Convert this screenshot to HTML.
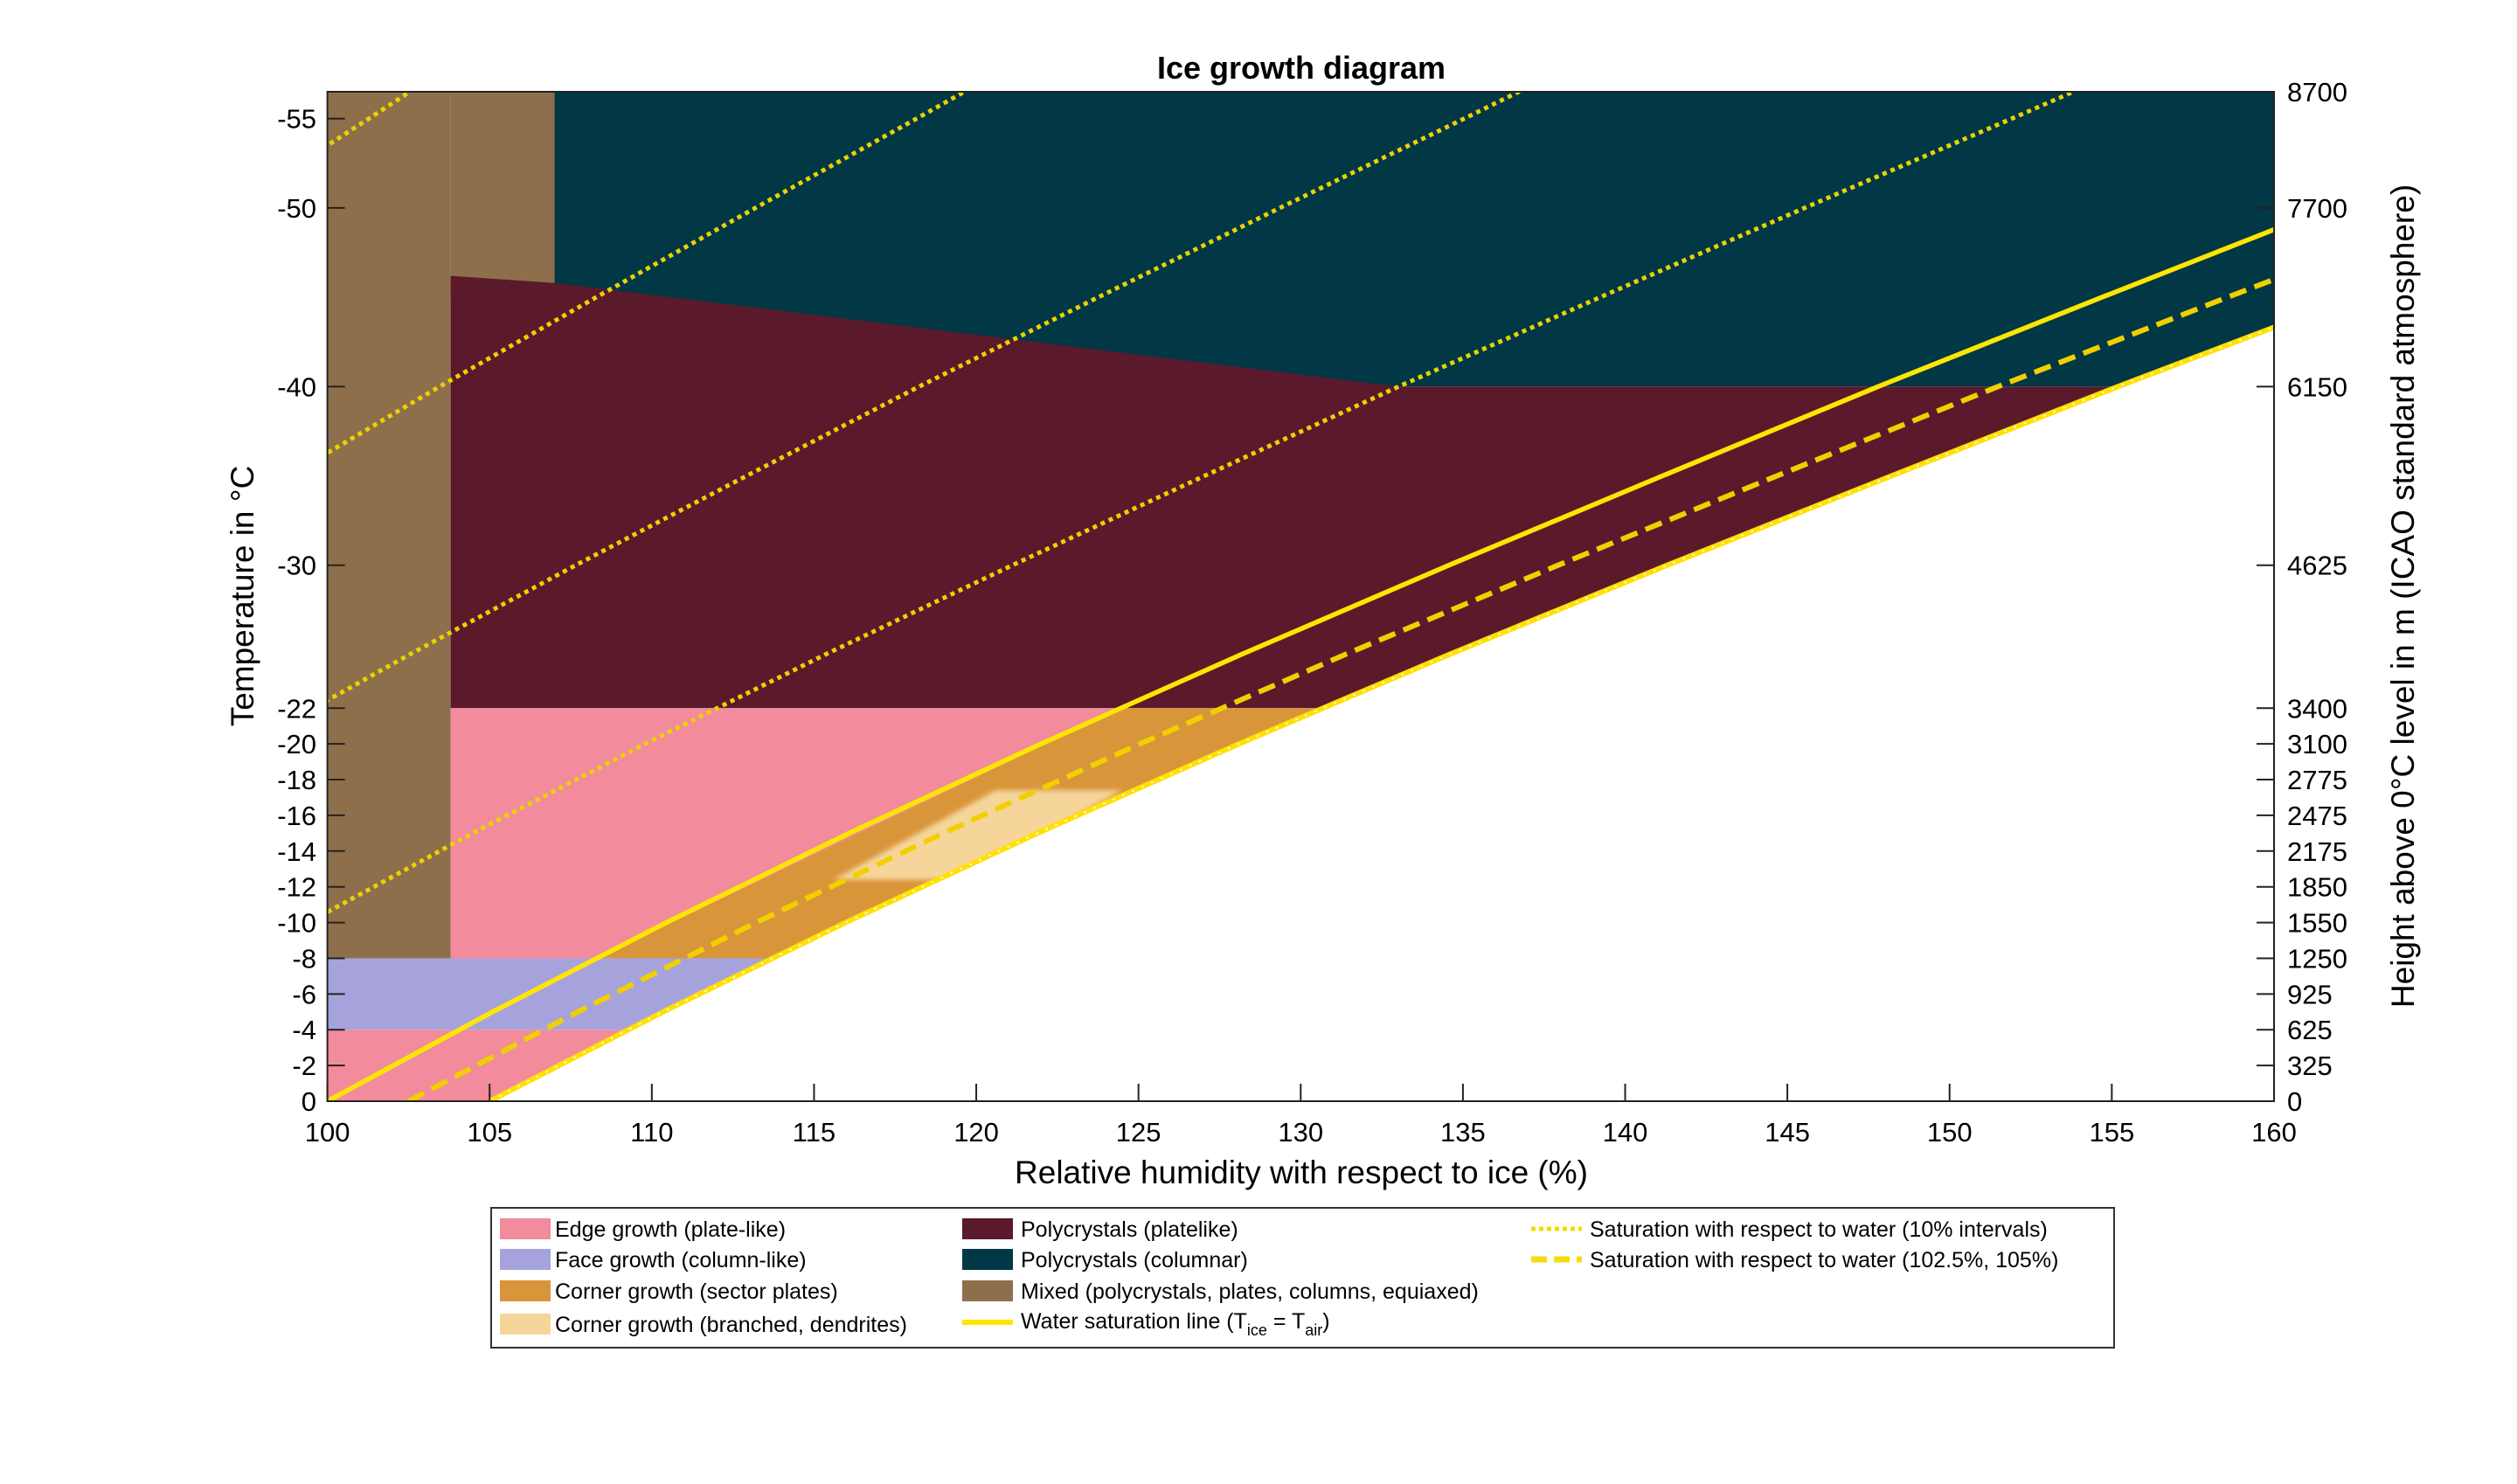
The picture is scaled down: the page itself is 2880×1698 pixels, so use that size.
<!DOCTYPE html>
<html><head><meta charset="utf-8"><style>
html,body{margin:0;padding:0;background:#fff}
svg{display:block;font-family:"Liberation Sans",sans-serif}
</style></head><body>
<svg id="chart" width="2880" height="1698" viewBox="0 0 2880 1698" xmlns="http://www.w3.org/2000/svg">
<defs>
<clipPath id="plotClip"><rect x="374.6" y="105" width="2227.4" height="1155"/></clipPath>
<clipPath id="regionClip"><polygon id="regionPoly" points=""/></clipPath>
<filter id="blur" x="-20%" y="-50%" width="140%" height="200%"><feGaussianBlur stdDeviation="3"/></filter>
</defs>
<text x="1489" y="90" text-anchor="middle" font-size="36" font-weight="bold">Ice growth diagram</text>
<g id="regions" clip-path="url(#plotClip)"><g id="regionsInner" clip-path="url(#regionClip)"></g></g>
<g id="lines" clip-path="url(#plotClip)"></g>
<g id="axes"></g>
<text x="1489" y="1354" text-anchor="middle" font-size="37">Relative humidity with respect to ice (%)</text>
<text transform="translate(290,682) rotate(-90)" text-anchor="middle" font-size="37">Temperature in °C</text>
<text transform="translate(2762,682) rotate(-90)" text-anchor="middle" font-size="37">Height above 0°C level in m (ICAO standard atmosphere)</text>
<g id="legend">
<rect x="562" y="1382" width="1857" height="160" fill="#fff" stroke="#333" stroke-width="2"/>
<g font-size="25">
<rect x="572" y="1394" width="58" height="24" fill="#F28B9B"/>
<text x="635" y="1415">Edge growth (plate-like)</text>
<rect x="572" y="1429" width="58" height="24" fill="#A6A3DC"/>
<text x="635" y="1450">Face growth (column-like)</text>
<rect x="572" y="1465" width="58" height="24" fill="#D9953A"/>
<text x="635" y="1486">Corner growth (sector plates)</text>
<rect x="572" y="1503" width="58" height="24" fill="#F6D59B"/>
<text x="635" y="1524">Corner growth (branched, dendrites)</text>
<rect x="1101" y="1394" width="58" height="24" fill="#5A1A2C"/>
<text x="1168" y="1415">Polycrystals (platelike)</text>
<rect x="1101" y="1429" width="58" height="24" fill="#023746"/>
<text x="1168" y="1450">Polycrystals (columnar)</text>
<rect x="1101" y="1465" width="58" height="24" fill="#8E6F4B"/>
<text x="1168" y="1486">Mixed (polycrystals, plates, columns, equiaxed)</text>
<line x1="1101" y1="1513" x2="1159" y2="1513" stroke="#FFE600" stroke-width="6"/>
<text x="1168" y="1520">Water saturation line (T<tspan font-size="18" dy="8">ice</tspan><tspan dy="-8"> = T</tspan><tspan font-size="18" dy="8">air</tspan><tspan dy="-8">)</tspan></text>
<line x1="1752" y1="1406" x2="1810" y2="1406" stroke="#F2DC00" stroke-width="5" stroke-dasharray="5 4"/>
<text x="1819" y="1415">Saturation with respect to water (10% intervals)</text>
<line x1="1752" y1="1441" x2="1810" y2="1441" stroke="#F5DC10" stroke-width="7" stroke-dasharray="18 8"/>
<text x="1819" y="1450">Saturation with respect to water (102.5%, 105%)</text>
</g></g>
</svg>
<script>
// data
const tempTable = [0,-5,-10,-15,-20,-25,-30,-35,-40,-45,-50,-55,-57];
const iceOverWater = [1.0,1.0509,1.1045,1.1608,1.2199,1.2816,1.3457,1.4115,1.4780,1.5470,1.6170,1.6880,1.716];
const dottedLevels = [90,80,70,60];
const dashedLevels = [102.5,105];
const leftTicks = [0,-2,-4,-6,-8,-10,-12,-14,-16,-18,-20,-22,-30,-40,-50,-55];
const rightTicks = [0,-2,-4,-6,-8,-10,-12,-14,-16,-18,-20,-22,-30,-40,-50,-56.5];
const rightTickLabels = ["0","325","625","925","1250","1550","1850","2175","2475","2775","3100","3400","4625","6150","7700","8700"];
const xTicks = [100,105,110,115,120,125,130,135,140,145,150,155,160];
const mixedCol = {x0:100,x1:103.8,t0:-8};
const mixedTop = {x0:103.8,x1:107,t0:-45};
const platelikePoly = [[103.8,-46.2],[107,-45.8],[133,-40],[170,-40],[170,-22],[103.8,-22]];
const dendritePoly = [[115.6,-12.4],[120.6,-17.4],[124.5,-17.4],[119.5,-12.4]];

const X0=374.6, PX=37.123, Y0=1260, PY=20.442;
const xs=v=>X0+(v-100)*PX, ys=t=>Y0+t*PY;
const NS="http://www.w3.org/2000/svg";
function mk(tag,attrs,parent){const e=document.createElementNS(NS,tag);for(const k in attrs)e.setAttribute(k,attrs[k]);parent.appendChild(e);return e;}
const reg=document.getElementById('regionsInner'), lines=document.getElementById('lines'), axes=document.getElementById('axes');

let cp=[[100,0]];
tempTable.forEach((t,i)=>cp.push([105*iceOverWater[i],t]));
cp.push([100,-57]);
document.getElementById('regionPoly').setAttribute('points',cp.map(p=>xs(p[0])+','+ys(p[1])).join(' '));

function rect(x0,x1,t0,t1,fill,name){
  const r=mk('rect',{x:xs(x0),y:ys(t1),width:xs(x1)-xs(x0),height:ys(t0)-ys(t1),fill:fill},reg);
  
  
}
function poly(pts,fill,name,extra){
  const p=mk('polygon',Object.assign({points:pts.map(q=>xs(q[0])+','+ys(q[1])).join(' '),fill:fill},extra||{}),reg);
  
  
}
rect(107,170,-40,-57,'#023746','region-polycrystals-columnar');
rect(mixedCol.x0,mixedCol.x1,mixedCol.t0,-57,'#8E6F4B','region-mixed');
rect(mixedTop.x0,mixedTop.x1,mixedTop.t0,-57,'#8E6F4B','region-mixed-top');
poly(platelikePoly,'#5A1A2C','region-polycrystals-platelike');
rect(103.8,170,-8,-22,'#F28B9B','region-edge-growth-upper');
rect(100,170,0,-4,'#F28B9B','region-edge-growth-lower');
rect(100,170,-4,-8,'#A6A3DC','region-face-growth');
function R(t){for(let i=0;i<tempTable.length-1;i++){if(t<=tempTable[i]&&t>=tempTable[i+1]){const f=(t-tempTable[i])/(tempTable[i+1]-tempTable[i]);return iceOverWater[i]+f*(iceOverWater[i+1]-iceOverWater[i]);}}return 1;}
poly([[100*R(-8),-8],[100*R(-22),-22],[170,-22],[170,-8]],'#D9953A','region-corner-sector-plates');
poly(dendritePoly,'#F6D59B','region-corner-dendrites',{filter:'url(#blur)'});

function curve(level,attrs,name){
  const d=tempTable.map((t,i)=>(i?'L':'M')+xs(level*iceOverWater[i]).toFixed(1)+' '+ys(t).toFixed(1)).join(' ');
  const p=mk('path',Object.assign({d:d,fill:'none'},attrs),lines);
  
  
}
dottedLevels.forEach(l=>curve(l,{stroke:'#EBD200','stroke-width':5,'stroke-dasharray':'5 5'},'dotted-line-'+l));
curve(dashedLevels[0],{stroke:'#F0D000','stroke-width':6,'stroke-dasharray':'20 10'},'dashed-line-102-5');
curve(dashedLevels[1],{stroke:'#FFE000','stroke-width':6},'dashed-line-105-base');
curve(dashedLevels[1],{stroke:'#ffffff','stroke-width':2,'stroke-dasharray':'3 9','stroke-opacity':0.8},'dashed-line-105-dots');
curve(100,{stroke:'#FFE600','stroke-width':5.5},'water-saturation-line');

mk('rect',{x:X0,y:105,width:2227.4,height:1155,fill:'none',stroke:'#222','stroke-width':2},axes);
leftTicks.forEach(t=>{
  const y=ys(t);
  mk('line',{x1:X0,y1:y,x2:X0+20,y2:y,stroke:'#222','stroke-width':2},axes);
  const a=mk('text',{x:362,y:y+11,'text-anchor':'end','font-size':31},axes);a.textContent=t;
  
  
});
rightTicks.forEach((t,i)=>{
  const y=ys(t);
  mk('line',{x1:2602,y1:y,x2:2582,y2:y,stroke:'#222','stroke-width':2},axes);
  const b=mk('text',{x:2617,y:y+11,'font-size':31},axes);b.textContent=rightTickLabels[i];
  
  
});
xTicks.forEach(v=>{
  const x=xs(v);
  mk('line',{x1:x,y1:Y0,x2:x,y2:Y0-20,stroke:'#222','stroke-width':2},axes);
  const a=mk('text',{x:x,y:1306,'text-anchor':'middle','font-size':31},axes);a.textContent=v;
  
  
});
</script>
</body></html>
